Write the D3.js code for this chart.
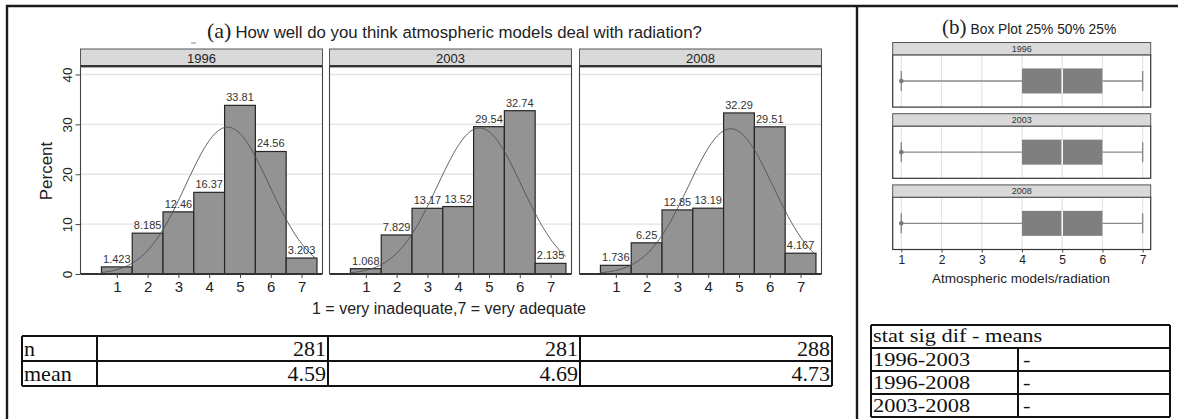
<!DOCTYPE html>
<html>
<head>
<meta charset="utf-8">
<script src="https://cdn.jsdelivr.net/npm/d3@7"></script>
<style>
  html, body { margin: 0; padding: 0; background: #fff; }
  svg { display: block; }
</style>
</head>
<body>
<svg id="chart" width="1178" height="419"></svg>
<script>
// ---- data -------------------------------------------------------------
const years = ["1996", "2003", "2008"];
const categories = [1, 2, 3, 4, 5, 6, 7];
const pct1996 = [1.423, 8.185, 12.46, 16.37, 33.81, 24.56, 3.203];
const pct2003 = [1.068, 7.829, 13.17, 13.52, 29.54, 32.74, 2.135];
const pct2008 = [1.736, 6.25, 12.85, 13.19, 32.29, 29.51, 4.167];
const yTicks = [0, 10, 20, 30, 40];
const nValues = ["281", "281", "288"];
const meanValues = ["4.59", "4.69", "4.73"];
// box plot: min, q1, median, q3, max
const box1996 = [1, 4, 5, 6, 7];
const box2003 = [1, 4, 5, 6, 7];
const box2008 = [1, 4, 5, 6, 7];
const sigPairs = ["1996-2003", "1996-2008", "2003-2008"];
const sigValues = ["-", "-", "-"];

const histSeries = [pct1996, pct2003, pct2008];
const boxSeries = [box1996, box2003, box2008];

const svg = d3.select("#chart");
const SANS = "'Liberation Sans', Arial, sans-serif";
const SERIF = "'Liberation Serif', 'Times New Roman', serif";

svg.append("rect").attr("width", 1178).attr("height", 419).attr("fill", "#fff");

// ---- (a) faceted histograms ------------------------------------------
const panelX = [80.5, 329.5, 579.5];
const panelW = 242;
const stripTop = 49, plotTop = 67, plotBottom = 274;

const y = d3.scaleLinear().domain([0, 41.5]).range([plotBottom, plotTop]);

function normalCurve(pcts) {
  const tot = d3.sum(pcts);
  const mean = d3.sum(pcts, (p, i) => categories[i] * p) / tot;
  const v = d3.sum(pcts, (p, i) => (categories[i] - mean) ** 2 * p) / tot;
  const sd = Math.sqrt(v);
  return d3.range(0.5, 7.5001, 0.05).map(t => [t,
    100 * Math.exp(-0.5 * ((t - mean) / sd) ** 2) / (sd * Math.sqrt(2 * Math.PI))]);
}

years.forEach((yr, k) => {
  const x = d3.scaleLinear().domain([-0.18, 7.68]).range([panelX[k], panelX[k] + panelW]);
  const g = svg.append("g");
  const data = histSeries[k];

  // gridlines
  g.selectAll("line.grid").data(yTicks.slice(1)).join("line")
    .attr("x1", panelX[k]).attr("x2", panelX[k] + panelW)
    .attr("y1", d => y(d)).attr("y2", d => y(d))
    .attr("stroke", "#e4e4e4").attr("stroke-width", 1.3);

  // bars
  g.selectAll("rect.bar").data(categories).join("rect")
    .attr("x", c => x(c - 0.5)).attr("width", c => x(c + 0.5) - x(c - 0.5))
    .attr("y", (c, i) => y(data[i])).attr("height", (c, i) => plotBottom - y(data[i]))
    .attr("fill", "#939393").attr("stroke", "#262626").attr("stroke-width", 1.2);

  // normal density overlay
  g.append("path").datum(normalCurve(data))
    .attr("d", d3.line().x(d => x(d[0])).y(d => y(d[1])).curve(d3.curveBasis))
    .attr("fill", "none").attr("stroke", "#505050").attr("stroke-width", 0.9);

  // value labels
  g.selectAll("text.val").data(categories).join("text")
    .attr("x", c => x(c)).attr("y", (c, i) => y(data[i]) - 4)
    .attr("text-anchor", "middle").attr("font-family", SANS).attr("font-size", 11)
    .attr("fill", "#333").text((c, i) => data[i]);

  // panel frame
  g.append("path")
    .attr("d", `M${panelX[k]},${plotTop}V${plotBottom}M${panelX[k] + panelW},${plotTop}V${plotBottom}`)
    .attr("stroke", "#444").attr("stroke-width", 1.1).attr("fill", "none");

  // x axis
  const xa = g.append("g").attr("transform", `translate(0,${plotBottom})`)
    .call(d3.axisBottom(x).tickValues(categories).tickSize(4).tickSizeOuter(0));
  xa.select(".domain").attr("stroke", "#333").attr("stroke-width", 2)
    .attr("d", `M${panelX[k]},0H${panelX[k] + panelW}`);
  xa.selectAll(".tick line").attr("stroke", "#444");
  xa.selectAll(".tick text").attr("font-family", SANS).attr("font-size", 15)
    .attr("fill", "#222").attr("dy", "0.71em").attr("y", 7);

  // strip
  g.append("rect").attr("x", panelX[k]).attr("y", stripTop)
    .attr("width", panelW).attr("height", plotTop - stripTop)
    .attr("fill", "#d9d9d9").attr("stroke", "#555").attr("stroke-width", 1);
  g.append("line").attr("x1", panelX[k]).attr("x2", panelX[k] + panelW)
    .attr("y1", plotTop - 1).attr("y2", plotTop - 1)
    .attr("stroke", "#333").attr("stroke-width", 2);
  g.append("text").attr("x", panelX[k] + panelW / 2).attr("y", 63)
    .attr("text-anchor", "middle").attr("font-family", SANS).attr("font-size", 13)
    .attr("fill", "#222").text(yr);
});

// y axis on first panel
const ya = svg.append("g").attr("transform", `translate(${panelX[0]},0)`)
  .call(d3.axisLeft(y).tickValues(yTicks).tickSize(5));
ya.select(".domain").remove();
ya.selectAll(".tick line").attr("stroke", "#444");
ya.selectAll(".tick text")
  .attr("font-family", SANS).attr("font-size", 13.5).attr("fill", "#222")
  .attr("x", null).attr("dy", null)
  .attr("text-anchor", "middle")
  .attr("transform", "translate(-9,0) rotate(-90)");

svg.append("text").attr("transform", "translate(52,171) rotate(-90)")
  .attr("text-anchor", "middle").attr("font-family", SANS).attr("font-size", 17)
  .attr("fill", "#222").text("Percent");

svg.append("text").attr("x", 449).attr("y", 314)
  .attr("text-anchor", "middle").attr("font-family", SANS).attr("font-size", 16)
  .attr("fill", "#222").text("1 = very inadequate,7 = very adequate");

// title (a)
const ta = svg.append("text").attr("x", 207).attr("y", 38).attr("fill", "#222");
ta.append("tspan").attr("font-family", SERIF).attr("font-size", 22).text("(a)");
ta.append("tspan").attr("font-family", SANS).attr("font-size", 16.8).attr("dx", 4)
  .text("How well do you think atmospheric models deal with radiation?");
svg.append("line").attr("x1", 191).attr("x2", 196).attr("y1", 43).attr("y2", 43)
  .attr("stroke", "#888").attr("stroke-width", 1);

// ---- table under (a) ------------------------------------------------
const tCols = [22, 97, 328, 580, 832];
const tRows = [336, 361, 386];
const tg = svg.append("g");
tRows.forEach(r => tg.append("line").attr("x1", tCols[0]).attr("x2", tCols[4])
  .attr("y1", r).attr("y2", r).attr("stroke", "#111").attr("stroke-width", 2));
tCols.forEach(c => tg.append("line").attr("x1", c).attr("x2", c)
  .attr("y1", tRows[0]).attr("y2", tRows[2]).attr("stroke", "#111").attr("stroke-width", 2));
const tableRows = [["n", nValues], ["mean", meanValues]];
tableRows.forEach((row, ri) => {
  const base = tRows[ri] + 20;
  tg.append("text").attr("x", tCols[0] + 2).attr("y", base)
    .attr("font-family", SERIF).attr("font-size", 22).attr("fill", "#111").text(row[0]);
  row[1].forEach((v, ci) => tg.append("text").attr("x", tCols[ci + 2] - 2).attr("y", base)
    .attr("text-anchor", "end").attr("font-family", SERIF).attr("font-size", 22)
    .attr("fill", "#111").text(v));
});

// ---- (b) box plots --------------------------------------------------
const bx = d3.scaleLinear().domain([0.786, 7.2]).range([892.7, 1150.7]);
const bStripTops = [42.5, 113.7, 184.9];
const bStripH = 12.3, bPlotH = 52.3;

years.forEach((yr, k) => {
  const g = svg.append("g");
  const st = bStripTops[k], pt = st + bStripH, pb = pt + bPlotH, cy = (pt + pb) / 2;
  const s = boxSeries[k];
  g.selectAll("line.grid").data(categories).join("line")
    .attr("x1", d => bx(d)).attr("x2", d => bx(d)).attr("y1", pt).attr("y2", pb)
    .attr("stroke", "#e4e4e4").attr("stroke-width", 1.2);
  // whiskers
  g.append("line").attr("x1", bx(s[0])).attr("x2", bx(s[1])).attr("y1", cy).attr("y2", cy)
    .attr("stroke", "#8a8a8a").attr("stroke-width", 1.4);
  g.append("line").attr("x1", bx(s[3])).attr("x2", bx(s[4])).attr("y1", cy).attr("y2", cy)
    .attr("stroke", "#8a8a8a").attr("stroke-width", 1.4);
  [s[0], s[4]].forEach(v => g.append("line").attr("x1", bx(v)).attr("x2", bx(v))
    .attr("y1", cy - 10).attr("y2", cy + 10).attr("stroke", "#8a8a8a").attr("stroke-width", 1.4));
  g.append("circle").attr("cx", bx(s[0])).attr("cy", cy).attr("r", 2.3).attr("fill", "#7a7a7a");
  // box
  g.append("rect").attr("x", bx(s[1])).attr("width", bx(s[3]) - bx(s[1]))
    .attr("y", cy - 12.5).attr("height", 25).attr("fill", "#7f7f7f");
  g.append("line").attr("x1", bx(s[2])).attr("x2", bx(s[2])).attr("y1", cy - 12.5).attr("y2", cy + 12.5)
    .attr("stroke", "#fff").attr("stroke-width", 1.5);
  // frame
  g.append("rect").attr("x", 892.7).attr("y", pt).attr("width", 1150.7 - 892.7).attr("height", bPlotH)
    .attr("fill", "none").attr("stroke", "#333").attr("stroke-width", 1.2);
  g.append("rect").attr("x", 892.7).attr("y", st).attr("width", 1150.7 - 892.7).attr("height", bStripH)
    .attr("fill", "#d9d9d9").attr("stroke", "#555").attr("stroke-width", 1);
  g.append("text").attr("x", (892.7 + 1150.7) / 2).attr("y", st + 9.5)
    .attr("text-anchor", "middle").attr("font-family", SANS).attr("font-size", 9)
    .attr("fill", "#333").text(yr);
});

const bxa = svg.append("g").attr("transform", `translate(0,${bStripTops[2] + bStripH + bPlotH})`)
  .call(d3.axisBottom(bx).tickValues(categories).tickFormat(d3.format("d")).tickSize(3).tickSizeOuter(0));
bxa.select(".domain").remove();
bxa.selectAll(".tick line").attr("stroke", "#444");
bxa.selectAll(".tick text").attr("font-family", SANS).attr("font-size", 12).attr("fill", "#222").attr("y", 6);

svg.append("text").attr("x", 1021).attr("y", 283).attr("text-anchor", "middle")
  .attr("font-family", SANS).attr("font-size", 13.5).attr("fill", "#222")
  .text("Atmospheric models/radiation");

const tb = svg.append("text").attr("x", 942).attr("y", 34).attr("fill", "#222");
tb.append("tspan").attr("font-family", SERIF).attr("font-size", 21).text("(b)");
tb.append("tspan").attr("font-family", SANS).attr("font-size", 13.8).attr("dx", 4).text("Box Plot 25% 50% 25%");

// ---- significance table --------------------------------------------
const sCols = [871, 1018, 1170];
const sLines = [325, 348, 371, 394, 417];
const sg = svg.append("g");
sLines.forEach(r => sg.append("line").attr("x1", sCols[0]).attr("x2", sCols[2])
  .attr("y1", r).attr("y2", r).attr("stroke", "#111").attr("stroke-width", 2));
[sCols[0], sCols[2]].forEach(c => sg.append("line").attr("x1", c).attr("x2", c)
  .attr("y1", sLines[0]).attr("y2", sLines[4]).attr("stroke", "#111").attr("stroke-width", 2));
sg.append("line").attr("x1", sCols[1]).attr("x2", sCols[1]).attr("y1", sLines[1]).attr("y2", sLines[4])
  .attr("stroke", "#111").attr("stroke-width", 2);
// cell text: slightly widened serif so it fills the narrow rows
function cellText(x, yBase, str) {
  sg.append("text").attr("transform", `translate(${x},${yBase}) scale(1.15,1)`)
    .attr("font-family", SERIF).attr("font-size", 19.5).attr("fill", "#111").text(str);
}
cellText(sCols[0] + 2, sLines[0] + 17, "stat sig dif - means");
sigPairs.forEach((p, i) => {
  cellText(sCols[0] + 2, sLines[i + 1] + 17.5, p);
  cellText(sCols[1] + 5, sLines[i + 1] + 17.5, sigValues[i]);
});

// ---- outer frame lines ---------------------------------------------
svg.append("line").attr("x1", 6).attr("x2", 1178).attr("y1", 6).attr("y2", 6)
  .attr("stroke", "#1a1a1a").attr("stroke-width", 2.4);
svg.append("line").attr("x1", 7).attr("x2", 7).attr("y1", 5).attr("y2", 419)
  .attr("stroke", "#1a1a1a").attr("stroke-width", 2.4);
svg.append("line").attr("x1", 857).attr("x2", 857).attr("y1", 5).attr("y2", 419)
  .attr("stroke", "#1a1a1a").attr("stroke-width", 2.4);
</script>
</body>
</html>
